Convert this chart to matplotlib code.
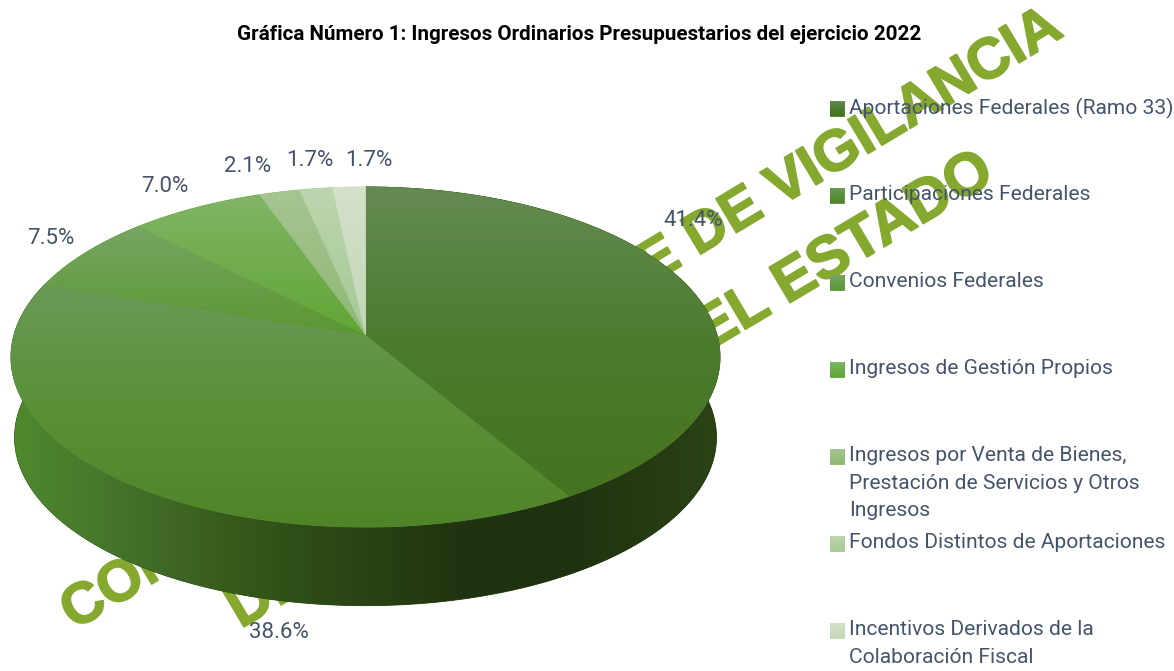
import numpy as np
import matplotlib
matplotlib.use("Agg")
import matplotlib.pyplot as plt
import matplotlib.patheffects as pe
from matplotlib.colors import LinearSegmentedColormap
from matplotlib.patches import Polygon

# ---- data ----
categories = ["Aportaciones Federales (Ramo 33)", "Participaciones Federales", "Convenios Federales",
              "Ingresos de Gestión Propios",
              "Ingresos por Venta de Bienes,\nPrestación de Servicios y Otros\nIngresos",
              "Fondos Distintos de Aportaciones",
              "Incentivos Derivados de la\nColaboración Fiscal"]
values = [41.4, 38.6, 7.5, 7.0, 2.1, 1.7, 1.7]
value_labels = ["41.4%", "38.6%", "7.5%", "7.0%", "2.1%", "1.7%", "1.7%"]
title = "Gráfica Número 1: Ingresos Ordinarios Presupuestarios del ejercicio 2022"
watermark = ["COMISIÓN PERMANENTE DE VIGILANCIA", "DEL CONGRESO DEL ESTADO"]

# ---- styling ----
top_colors = [["#648b54", "#4d7b2e", "#45731f"], ["#6b9a58", "#5a9038", "#4f8429"],
              ["#76a662", "#5b9733"], ["#80b566", "#62a535"],
              ["#a6c592", "#8fb873"], ["#bdd5af", "#a6c996"], ["#d4e1c9", "#c3d7b7"]]
wall_colors = [["#1b2b0b", "#1e300e", "#2a4316"],
               ["#4f8a2e", "#44722a", "#37591b", "#2a4615", "#213410", "#1f3210"]]
legend_y = [108, 195, 282, 369, 456, 543, 630]
label_xy = [(693, 220), (279, 633), (51, 239), (165, 187), (248, 166), (310, 160), (369, 160)]
TEXT = "#44546a"
CX, CY, A, B, K = 365.5, 335.0, 351.5, 167.2, 0.1295
DEPTH, SHRINK = 80.5, 0.99
FONT = "Roboto"
MARK = "#85a82e"


def rim(theta, drop=0.0, scale=1.0):
    u, v = np.sin(theta), np.cos(theta)
    w = 1 + K * v
    return CX + scale * A * u / w, CY + drop - scale * B * v / w


def grad_fill(ax, xy, colors, horizontal=False, z=3):
    xy = np.asarray(xy)
    x0, x1, y0, y1 = xy[:, 0].min(), xy[:, 0].max(), xy[:, 1].min(), xy[:, 1].max()
    ax.add_patch(Polygon(xy, closed=True, fc=colors[len(colors) // 2], ec=colors[len(colors) // 2],
                         lw=0.6, zorder=z - 0.5))
    cmap = LinearSegmentedColormap.from_list("g", colors)
    g = np.linspace(0, 1, 256)
    g = g[None, :] if horizontal else g[:, None]
    im = ax.imshow(g, cmap=cmap, extent=(x0, x1, y1, y0), aspect="auto",
                   interpolation="bilinear", zorder=z, origin="upper")
    patch = Polygon(xy, closed=True, transform=ax.transData, fc="none", ec="none")
    ax.add_patch(patch)
    im.set_clip_path(patch)


fig = plt.figure(figsize=(11.74, 6.71), dpi=100)
ax = fig.add_axes([0, 0, 1, 1])
ax.axis("off")

# watermark behind the pie
heavy = [pe.withStroke(linewidth=1.2, foreground=MARK)]
ax.text(562, 320, watermark[0], rotation=31, rotation_mode="anchor", ha="center", va="center",
        color=MARK, fontsize=41.5, fontweight="bold", family="Liberation Sans", zorder=1,
        path_effects=heavy)
ax.text(611, 391, watermark[1], rotation=30.7, rotation_mode="anchor", ha="center", va="center",
        color=MARK, fontsize=43, fontweight="bold", family="Liberation Sans", zorder=1,
        path_effects=heavy)

edges = np.radians(np.concatenate([[0], np.cumsum(values)]) / np.sum(values) * 360)

# side walls
for i in [1, 0]:
    t = np.linspace(edges[i], edges[i + 1], 200)
    x1, y1 = rim(t)
    x2, y2 = rim(t[::-1], DEPTH, SHRINK)
    grad_fill(ax, np.c_[np.r_[x1, x2], np.r_[y1, y2]], wall_colors[i], horizontal=True, z=2)

# top faces
for i in range(len(values)):
    t = np.linspace(edges[i], edges[i + 1], 200)
    x, y = rim(t)
    xy = np.c_[np.r_[CX, x], np.r_[CY, y]]
    grad_fill(ax, xy, top_colors[i], z=3 + i * 0.01)

# value labels
for s, (x, y) in zip(value_labels, label_xy):
    ax.text(x, y, s, color=TEXT, fontsize=16, family=FONT, ha="center", va="center", zorder=6)

# legend
for name, y, cols in zip(categories, legend_y, top_colors):
    grad_fill(ax, [(830, y - 7), (844, y - 7), (844, y + 8), (830, y + 8)], cols, z=6)
    ax.text(849, y - 10, name, color=TEXT, fontsize=15.1, family=FONT, ha="left", va="top",
            linespacing=1.58, zorder=6)

ax.text(579, 35, title, color="black", fontsize=14.85, fontweight="bold", family=FONT,
        ha="center", va="center", zorder=6)

ax.set_xlim(0, 1174)
ax.set_ylim(671, 0)
fig.savefig("out.png", dpi=100)
